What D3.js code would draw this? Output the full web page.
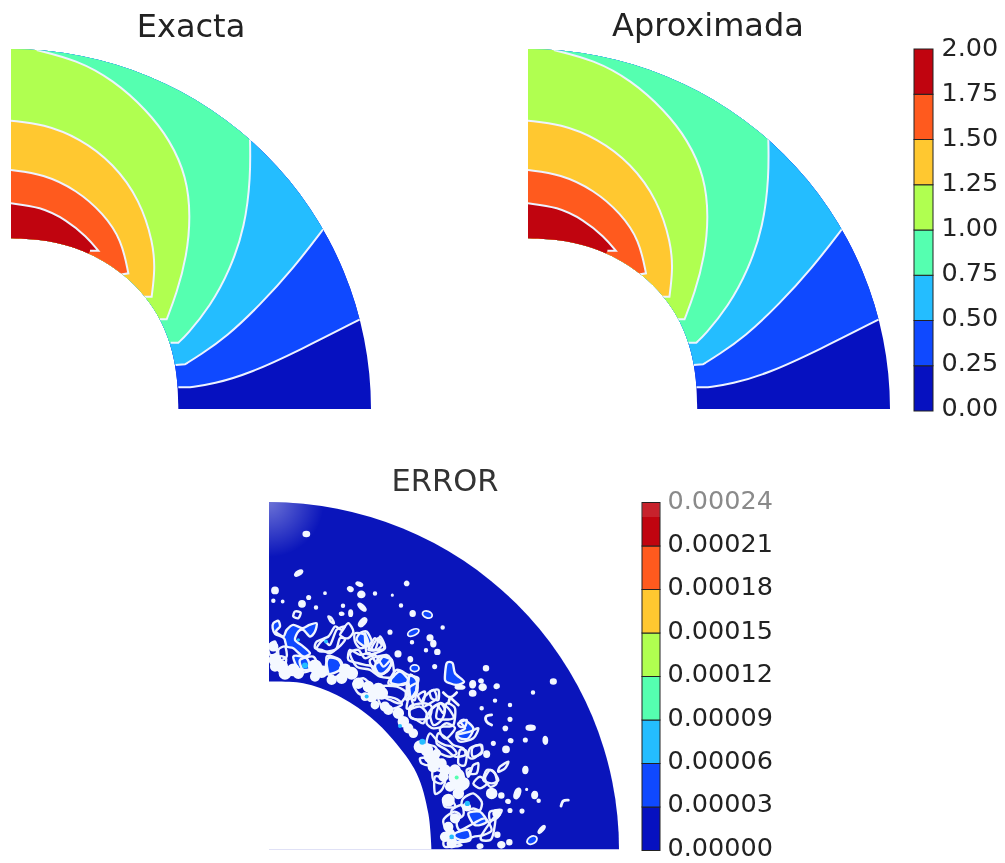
<!DOCTYPE html>
<html>
<head>
<meta charset="utf-8">
<script src="https://d3js.org/d3.v7.min.js"></script>
<style>
  html, body { margin: 0; padding: 0; background: #fff; }
  svg { display: block; filter: blur(0.55px); }
  text { font-family: "DejaVu Sans", sans-serif; fill: #222; }
</style>
</head>
<body>
<script>
//#region data
let levelColors = ["#0611c0", "#0f49ff", "#24bdff", "#55ffb0", "#b0ff50", "#ffc830", "#ff5a1e", "#c0040f"];

// contour panels, digitised units, outer radius = 1080
let outerR = 1080;
let innerEdge = [[0, 512], [90, 509], [178, 490], [262, 455], [339, 404], [404, 339], [454, 262], [485, 176], [500, 88], [502, 0]];
let contour025 = [[1047, 269], [867, 177], [717, 107], [607, 75], [537, 65], [502, 65]];
let contour050 = [[937, 540], [847, 422], [747, 312], [647, 217], [567, 162], [522, 134], [494, 132]];
let contour075 = [[717, 809], [719, 697], [702, 547], [657, 417], [597, 307], [527, 222], [502, 199], [479, 199]];
let contour100 = [[77, 1077], [197, 1047], [307, 987], [407, 897], [477, 807], [527, 697], [539, 577], [527, 457], [497, 347], [467, 269], [447, 269]];
let contour125 = [[0, 865], [97, 855], [207, 812], [307, 737], [387, 627], [427, 497], [432, 417], [422, 337], [397, 337]];
let contour150 = [[0, 717], [97, 705], [197, 657], [277, 587], [332, 507], [352, 407], [322, 402]];
let contour175 = [[0, 617], [87, 607], [167, 567], [227, 517], [262, 475], [237, 475]];
let contours = [contour025, contour050, contour075, contour100, contour125, contour150, contour175];

let barValues = [0, 0.25, 0.5, 0.75, 1, 1.25, 1.5, 1.75, 2];
let errorValues = [0, 0.00003, 0.00006, 0.00009, 0.00012, 0.00015, 0.00018, 0.00021, 0.00024];

// error panel, digitised units: x 27..1077 , y 1078..37
let errorInner = [[27, 575], [130, 580], [230, 615], [330, 680], [400, 750], [470, 850], [505, 970], [515, 1090]];
// x, y, rx, ry, rotation
let errorDots = [
  [139, 133, 9, 7, 0], [116, 250, 13, 6, -30], [45, 302, 9, 9, 0], [40, 333, 4, 4, 0], [68, 335, 3, 3, 0],
  [126, 342, 9, 9, 0], [146, 323, 5, 5, 0], [168, 353, 4, 4, 0], [195, 310, 3, 3, 0], [271, 298, 8, 6, 30],
  [298, 283, 10, 5, 20], [304, 314, 10, 9, 0], [345, 311, 4, 4, 0], [249, 348, 4, 4, 0], [245, 372, 6, 4, 0],
  [272, 370, 5, 9, 0], [306, 352, 15, 6, 45], [308, 397, 8, 15, 40], [440, 281, 6, 6, 0], [423, 347, 4, 4, 0],
  [397, 316, 2, 2, 0], [458, 371, 7, 8, 0], [502, 374, 15, 10, 20], [548, 413, 4, 4, 0], [390, 427, 5, 5, 0],
  [460, 428, 18, 9, -25], [510, 444, 8, 8, 0], [520, 461, 7, 9, 0], [498, 481, 4, 4, 0], [532, 486, 7, 7, 0],
  [456, 457, 4, 4, 0], [414, 492, 8, 8, 0], [451, 508, 6, 7, 0], [464, 535, 13, 10, 0], [524, 530, 5, 5, 0],
  [678, 535, 7, 7, 0], [880, 575, 8, 7, 0], [819, 608, 4, 4, 0], [638, 583, 8, 10, 0], [638, 610, 9, 8, 0],
  [663, 573, 6, 5, 0], [668, 592, 10, 9, 0], [710, 589, 7, 6, 0], [600, 592, 14, 5, 0], [705, 632, 4, 4, 0],
  [750, 645, 4, 4, 0], [665, 655, 4, 4, 0], [750, 688, 5, 5, 0], [736, 715, 6, 6, 0], [812, 713, 13, 7, 0],
  [856, 751, 6, 11, 0], [796, 750, 5, 5, 0], [752, 752, 6, 5, 0], [738, 778, 9, 9, 0], [700, 760, 5, 5, 0],
  [680, 792, 8, 9, 0], [796, 840, 7, 10, 0], [824, 915, 8, 10, 0], [836, 932, 4, 4, 0], [800, 898, 2, 2, 0],
  [744, 934, 6, 5, 0], [750, 961, 5, 5, 0], [786, 963, 5, 5, 0], [772, 910, 8, 16, 20], [724, 916, 7, 7, 0],
  [698, 912, 11, 10, 0], [712, 1034, 7, 7, 0], [748, 1056, 7, 7, 0], [724, 1064, 10, 9, 0], [660, 1068, 8, 6, 0],
  [845, 1018, 5, 14, 40], [816, 1050, 16, 11, -30]
];
// white mass along the inner edge: x, y, r
let errorMass = [
  [40, 470, 10], [45, 510, 14], [65, 530, 14], [45, 530, 10], [75, 550, 14], [100, 540, 14], [115, 550, 12], [165, 530, 16],
  [185, 545, 14], [165, 560, 10], [215, 570, 10], [255, 540, 14], [275, 550, 14], [245, 565, 12], [295, 580, 12], [325, 590, 12],
  [355, 600, 16], [335, 620, 12], [365, 610, 14], [315, 620, 8], [345, 645, 8], [385, 660, 10], [375, 650, 10], [415, 670, 12],
  [430, 695, 12], [445, 715, 10], [460, 730, 9], [480, 770, 14], [500, 780, 14], [510, 800, 14], [530, 790, 8], [520, 830, 12],
  [525, 810, 10], [545, 820, 10], [555, 840, 12], [585, 840, 12], [550, 860, 10], [590, 860, 20], [600, 885, 16], [570, 890, 10],
  [610, 880, 14], [595, 910, 12], [565, 930, 14], [620, 950, 8], [585, 985, 10], [565, 1010, 10], [555, 1040, 10], [575, 1060, 10],
  [570, 1030, 10], [695, 910, 12], [710, 970, 8]
];
// contour loops around bright blue patches
let errorLoops = [
  [[40, 400], [55, 393], [60, 410], [48, 425], [70, 440], [80, 420], [100, 405], [128, 415], [148, 405], [170, 400], [165, 425], [150, 440], [130, 420], [115, 425], [105, 450], [130, 470], [150, 490], [130, 500], [100, 475], [80, 470], [72, 445], [45, 432], [38, 415]],
  [[300, 430], [320, 425], [335, 455], [315, 470], [290, 450]],
  [[205, 505], [235, 510], [245, 535], [220, 550], [195, 550]],
  [[395, 565], [420, 545], [445, 570], [430, 585], [395, 580]],
  [[560, 520], [578, 520], [585, 550], [612, 575], [590, 585], [570, 580], [555, 570]],
  [[600, 695], [615, 690], [640, 715], [625, 745], [600, 745], [590, 730], [615, 715]],
  [[625, 970], [660, 965], [680, 995], [645, 1005]],
  [[585, 1030], [625, 1020], [630, 1050], [590, 1055]],
  [[100, 500], [140, 505], [150, 540], [120, 545]],
  [[360, 500], [395, 510], [385, 540], [360, 555], [345, 530]],
  [[450, 555], [470, 570], [470, 600], [455, 625], [445, 590]]
];
// contour loops with the dark level inside
let errorRings = [
  [[170, 455], [205, 440], [225, 410], [245, 420], [265, 400], [280, 425], [265, 445], [240, 445], [230, 475], [210, 490], [185, 480], [165, 475]],
  [[345, 445], [365, 465], [350, 480], [325, 480], [335, 460]],
  [[270, 480], [300, 495], [330, 490], [350, 520], [370, 500], [395, 510], [385, 540], [360, 555], [340, 530], [315, 525], [295, 520], [265, 510]],
  [[450, 555], [470, 570], [470, 600], [455, 625], [460, 650], [440, 655], [445, 620], [440, 590]],
  [[490, 625], [520, 600], [530, 625], [510, 640], [490, 650]],
  [[450, 660], [480, 650], [500, 670], [490, 700], [470, 690], [450, 680]],
  [[510, 665], [540, 640], [555, 660], [545, 690], [520, 705]],
  [[540, 715], [560, 700], [585, 715], [560, 745], [545, 735]],
  [[510, 730], [535, 755], [555, 765], [575, 770], [590, 790], [570, 800], [540, 790], [525, 770], [500, 760]],
  [[640, 770], [665, 765], [665, 790], [640, 800], [635, 785]],
  [[600, 780], [620, 785], [615, 825], [595, 820]],
  [[640, 825], [655, 820], [650, 850], [625, 850], [635, 835]],
  [[680, 840], [700, 845], [715, 870], [695, 880], [670, 870]],
  [[720, 830], [745, 815], [735, 835], [715, 845]],
  [[640, 880], [660, 860], [680, 880], [660, 895]],
  [[610, 925], [640, 910], [665, 935], [660, 960], [640, 955], [620, 960], [605, 945]],
  [[550, 990], [580, 965], [600, 975], [590, 1000], [600, 1020], [640, 1000], [675, 985], [695, 1020], [670, 1035], [640, 1040], [615, 1050], [590, 1045], [560, 1020]],
  [[690, 965], [725, 960], [710, 985], [690, 990]],
  [[520, 840], [560, 850], [545, 880], [520, 870]],
  [[550, 925], [575, 930], [585, 950], [555, 950]],
  [[205, 380], [215, 385], [222, 400], [212, 395]],
  [[360, 590], [410, 590], [440, 610], [420, 640], [390, 630], [370, 620]],
  [[280, 580], [310, 565], [335, 590], [320, 615], [295, 610]],
  [[60, 500], [78, 505], [75, 525], [60, 525]],
  [[105, 365], [122, 368], [115, 385], [100, 380]],
  [[315, 430], [325, 470], [345, 480], [360, 440], [375, 475], [345, 490], [320, 490]],
  [[330, 510], [380, 495], [395, 520], [370, 550], [345, 545]],
  [[385, 580], [410, 540], [445, 555], [475, 565], [470, 590], [465, 630], [450, 620], [445, 580], [415, 585]],
  [[510, 605], [535, 600], [535, 630], [515, 625]],
  [[475, 615], [495, 605], [490, 635], [480, 630]],
  [[450, 650], [490, 640], [515, 650], [505, 685], [455, 685]],
  [[540, 640], [565, 655], [580, 685], [530, 685]],
  [[355, 620], [405, 625], [425, 645], [375, 660]],
  [[440, 600], [470, 580], [470, 610], [440, 630]],
  [[505, 670], [530, 645], [550, 670], [560, 640], [585, 655], [580, 705], [550, 710], [520, 715], [500, 700]],
  [[595, 700], [620, 690], [615, 710], [600, 710]],
  [[590, 735], [630, 725], [655, 715], [640, 745], [600, 755]],
  [[535, 730], [560, 745], [580, 765], [610, 775], [615, 795], [585, 800], [560, 780], [530, 760]],
  [[630, 775], [660, 765], [665, 785], [640, 805], [625, 800]],
  [[480, 805], [500, 805], [505, 825], [485, 820]],
  [[620, 840], [635, 835], [625, 860]],
  [[690, 840], [705, 850], [710, 880], [690, 890], [675, 865]],
  [[575, 960], [605, 945], [610, 975], [580, 990]],
  [[525, 860], [555, 870], [545, 900], [525, 910]],
  [[665, 1035], [705, 980], [700, 1030], [690, 1050], [665, 1050]],
  [[555, 1050], [605, 1065], [555, 1070]],
  [[190, 450], [210, 465], [230, 420], [255, 410], [240, 435], [255, 450], [225, 480], [185, 485], [170, 475]],
  [[285, 430], [315, 435], [325, 465], [300, 475], [285, 455]],
  [[335, 475], [355, 445], [373, 475], [350, 480]],
  [[270, 490], [295, 480], [315, 505], [345, 495], [370, 530], [395, 510], [400, 560], [360, 560], [330, 540], [290, 530]],
  [[55, 480], [75, 470], [80, 500], [60, 510]],
  [[25, 470], [45, 455], [50, 490], [30, 495]],
  [[120, 510], [160, 500], [170, 530], [130, 540]],
  [[200, 500], [240, 510], [250, 550], [210, 560]]
];
// open pieces of contour
let errorOpen = [
  [[695, 675], [678, 680], [680, 695], [695, 705]],
  [[925, 930], [910, 932], [903, 948]],
  [[550, 608], [570, 622], [590, 608]],
  [[570, 622], [565, 640]],
  [[570, 622], [595, 645]]
];
// peaks in the higher levels: x, y, r, level
let errorPeaks = [
  [135, 527, 9, 2], [198, 455, 6, 2], [115, 450, 5, 2], [320, 620, 6, 2], [420, 708, 6, 2],
  [487, 755, 9, 2], [590, 862, 6, 3], [622, 940, 8, 2], [575, 1040, 7, 2]
];
//#endregion

let svg = d3.select("body").append("svg").attr("width", 1005).attr("height", 863);
let defs = svg.append("defs");

function addTitle(label, x, y, size, color) {
  svg.append("text").text(label)
    .attr("x", x).attr("y", y)
    .attr("text-anchor", "middle")
    .style("font-size", size + "px")
    .style("fill", color);
}

function contourPanel(id, originX, originY, widthPx) {
  let x = d3.scaleLinear().domain([0, outerR]).range([0, widthPx]);
  let y = d3.scaleLinear().domain([0, outerR]).range([0, -360]);
  let line = d3.line().x(d => x(d[0])).y(d => y(d[1]));
  let smooth = d3.line().x(d => x(d[0])).y(d => y(d[1])).curve(d3.curveBasis);
  // smooth along the contour, sharp elbow where it runs into the inner edge
  let contourPath = c => smooth(c.slice(0, -1)) + line(c.slice(-2)).replace("M", "L");
  let sector = d3.arc()({ innerRadius: 0, outerRadius: 360, startAngle: 0, endAngle: Math.PI / 2 });

  let clip = defs.append("clipPath").attr("id", id);
  clip.append("path")
    .attr("d", sector + smooth(innerEdge) + "L" + x(0) + "," + y(0) + "Z")
    .attr("transform", `scale(${widthPx / 360}, 1)`)
    .attr("clip-rule", "evenodd");

  let g = svg.append("g")
    .attr("transform", `translate(${originX}, ${originY})`)
    .attr("clip-path", `url(#${id})`);

  g.append("rect").attr("x", 0).attr("y", -370).attr("width", 375).attr("height", 370)
    .attr("fill", levelColors[0]);

  // each level covers everything above its contour
  contours.forEach((c, i) => {
    let first = c[0];
    let closing = line([c[c.length - 1], [0, 0], [0, 2400], [first[0] * 2, first[1] * 2], first]);
    g.append("path")
      .attr("d", contourPath(c) + closing.replace("M", "L"))
      .attr("fill", levelColors[i + 1]);
  });
  g.selectAll(".contour").data(contours).join("path")
    .attr("class", "contour")
    .attr("d", contourPath)
    .attr("fill", "none")
    .attr("stroke", "#edf3ff")
    .attr("stroke-width", 2);
}

function colorBar(values, barRange, labelRange, labelX, barX, barW, fmt) {
  let barY = d3.scaleLinear().domain(d3.extent(values)).range(barRange);
  let labelY = d3.scaleLinear().domain(d3.extent(values)).range(labelRange);
  let bar = svg.append("g");
  bar.selectAll("rect").data(values.slice(1)).join("rect")
    .attr("x", barX).attr("width", barW)
    .attr("y", d => barY(d))
    .attr("height", (d, i) => barY(values[i]) - barY(d))
    .attr("fill", (d, i) => levelColors[i])
    .attr("stroke", "#222")
    .attr("stroke-width", 1);
  let axis = d3.axisRight(labelY).tickValues(values).tickSize(0).tickPadding(0).tickFormat(d3.format(fmt));
  let axisG = svg.append("g").attr("transform", `translate(${labelX}, 0)`).call(axis);
  axisG.select(".domain").remove();
  axisG.selectAll("text")
    .style("font-size", "25.5px")
    .style("font-family", '"DejaVu Sans", sans-serif')
    .style("fill", "#222");
  return axisG;
}

contourPanel("clipExacta", 11, 409, 360);
contourPanel("clipAprox", 528, 409, 362);
addTitle("Exacta", 191, 37, 32, "#222");
addTitle("Aproximada", 708, 36, 32, "#222");
colorBar(barValues, [411, 49], [407, 47], 941.5, 914, 19, ".2f");

//#region error panel
function errorPanel() {
  let x = d3.scaleLinear().domain([27, 1077]).range([269, 619]);
  let y = d3.scaleLinear().domain([1078, 37]).range([849.5, 502]);
  let curved = d3.line().x(d => x(d[0])).y(d => y(d[1])).curve(d3.curveCatmullRom.alpha(0.5));
  let loop = d3.line().x(d => x(d[0])).y(d => y(d[1])).curve(d3.curveCardinalClosed.tension(0.2));

  let sector = d3.arc()({ innerRadius: 0, outerRadius: 350, startAngle: 0, endAngle: Math.PI / 2 });
  defs.append("clipPath").attr("id", "clipError")
    .append("path")
    .attr("transform", `translate(${x(27)}, ${y(1078)}) scale(1, ${347.5 / 350})`)
    .attr("d", sector);

  let inner = curved(errorInner) + "L" + x(27) + "," + y(1090) + "Z";
  let g = svg.append("g").attr("clip-path", "url(#clipError)");
  g.append("rect").attr("x", 269).attr("y", 500).attr("width", 352).attr("height", 349.5)
    .attr("fill", "#0a15bb");

  // lighter corner at the top left
  let grad = defs.append("radialGradient").attr("id", "cornerFade")
    .attr("gradientUnits", "userSpaceOnUse")
    .attr("cx", 269).attr("cy", 502).attr("r", 55);
  grad.append("stop").attr("offset", "0%").attr("stop-color", "#fff").attr("stop-opacity", 0.4);
  grad.append("stop").attr("offset", "100%").attr("stop-color", "#fff").attr("stop-opacity", 0);
  g.append("rect").attr("x", 269).attr("y", 500).attr("width", 60).attr("height", 60).attr("fill", "url(#cornerFade)");

  // the marks are soft in the picture
  let marks = g.append("g").style("filter", "blur(0.6px)");
  marks.selectAll(".loop").data(errorLoops).join("path")
    .attr("class", "loop")
    .attr("d", loop)
    .attr("fill", levelColors[1])
    .attr("stroke", "#f2f6ff")
    .attr("stroke-width", 2.4);
  marks.selectAll(".ring").data(errorRings).join("path")
    .attr("class", "ring")
    .attr("d", loop)
    .attr("fill", "none")
    .attr("stroke", "#eef3ff")
    .attr("stroke-width", 2.4);
  marks.selectAll(".open").data(errorOpen).join("path")
    .attr("class", "open")
    .attr("d", curved)
    .attr("fill", "none")
    .attr("stroke", "#f2f6ff")
    .attr("stroke-width", 2.8)
    .attr("stroke-linecap", "round");
  marks.selectAll(".mass").data(errorMass).join("circle")
    .attr("class", "mass")
    .attr("cx", d => x(d[0])).attr("cy", d => y(d[1]))
    .attr("r", d => x(d[2]) - x(0))
    .attr("fill", "#f4f8ff")
    .attr("stroke", "#f4f8ff")
    .attr("stroke-width", 3.5);
  marks.selectAll(".dot").data(errorDots).join("ellipse")
    .attr("class", "dot")
    .attr("rx", d => x(d[2]) - x(0)).attr("ry", d => x(d[3]) - x(0))
    .attr("transform", d => `translate(${x(d[0])}, ${y(d[1])}) rotate(${d[4]})`)
    .attr("fill", d => d[2] > 11 && d[3] > 8 ? levelColors[1] : "#f4f8ff")
    .attr("stroke", "#f2f6ff")
    .attr("stroke-width", 1.8);
  marks.selectAll(".peak").data(errorPeaks).join("circle")
    .attr("class", "peak")
    .attr("cx", d => x(d[0])).attr("cy", d => y(d[1]))
    .attr("r", d => x(d[2]) - x(0))
    .attr("fill", d => levelColors[d[3]]);

  // hole of the ring, white on top
  g.append("path").attr("d", inner).attr("fill", "#fff");
}
errorPanel();
addTitle("ERROR", 445, 491, 30.5, "#333");
let errAxis = colorBar(errorValues, [850.5, 502.5], [847, 500], 667.5, 642, 18, ".5f");
errAxis.selectAll("text").filter(d => d === 0.00024).style("fill", "#8a8a8a");
svg.append("rect").attr("x", 642).attr("y", 503).attr("width", 18).attr("height", 14).attr("fill", "#fff").attr("opacity", 0.12);
//#endregion
</script>
</body>
</html>
